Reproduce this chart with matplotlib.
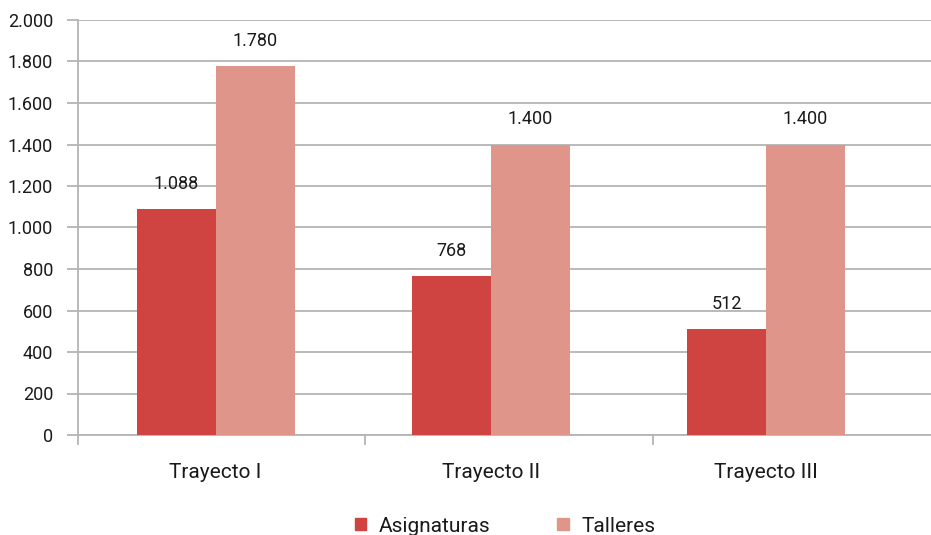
import matplotlib as mpl
mpl.use("Agg")
import matplotlib.pyplot as plt
from matplotlib.patches import Patch
from matplotlib.ticker import FuncFormatter, FixedLocator
import numpy as np

mpl.rcParams['font.family'] = ['Roboto', 'DejaVu Sans']

#data
categories = ["Trayecto I", "Trayecto II", "Trayecto III"]
asignaturas = [1088, 768, 512]
talleres = [1780, 1400, 1400]
series_names = ["Asignaturas", "Talleres"]

c_asig = "#CF4440"
c_tall = "#E0958A"
grid_c = "#B4B4B4"
txt_c = "#1A1A1A"

fig = plt.figure(figsize=(9.31, 5.35), dpi=100)
ax = fig.add_axes([78/931, 100/535, 1 - 78/931, 415/535])

x = np.arange(len(categories))
w = 0.287
b1 = ax.bar(x - w/2, asignaturas, w, color=c_asig, zorder=3)
b2 = ax.bar(x + w/2, talleres, w, color=c_tall, zorder=3)

def fmt(v, pos=None):
    return "{:,.0f}".format(v).replace(",", ".")

for bars, vals in [(b1, asignaturas), (b2, talleres)]:
    for r, v in zip(bars, vals):
        ax.annotate(fmt(v), (r.get_x() + r.get_width()/2, v), xytext=(0, 18),
                    textcoords="offset points", ha="center", va="center",
                    fontsize=13, color=txt_c)

ax.set_ylim(0, 2000)
ax.set_xlim(-0.5, 2.6)
ax.yaxis.set_major_locator(FixedLocator(np.arange(0, 2001, 200)))
ax.yaxis.set_major_formatter(FuncFormatter(fmt))
ax.grid(axis="y", color=grid_c, linewidth=1.3, zorder=0)

ax.set_xticks(x)
ax.set_xticklabels(categories)
ax.set_xticks([-0.5, 0.542, 1.589], minor=True)
ax.tick_params(axis="x", which="major", length=0, pad=20, labelsize=15, labelcolor=txt_c)
ax.tick_params(axis="x", which="minor", length=7, width=1.3, color=grid_c, direction="out")
ax.tick_params(axis="y", length=8, width=1.3, color=grid_c, pad=10, labelsize=13, labelcolor=txt_c)

for s in ["top", "right"]:
    ax.spines[s].set_visible(False)
for s in ["left", "bottom"]:
    ax.spines[s].set_color(grid_c)
    ax.spines[s].set_linewidth(1.3)

handles = [Patch(color=c_asig, label=series_names[0]), Patch(color=c_tall, label=series_names[1])]
fig.legend(handles=handles, loc="center", bbox_to_anchor=(505/931, 9/535), ncol=2,
           frameon=False, fontsize=15, handlelength=0.55, handleheight=0.55,
           handletextpad=0.6, columnspacing=3.2, labelcolor=txt_c)

fig.savefig("out.png", dpi=100)
